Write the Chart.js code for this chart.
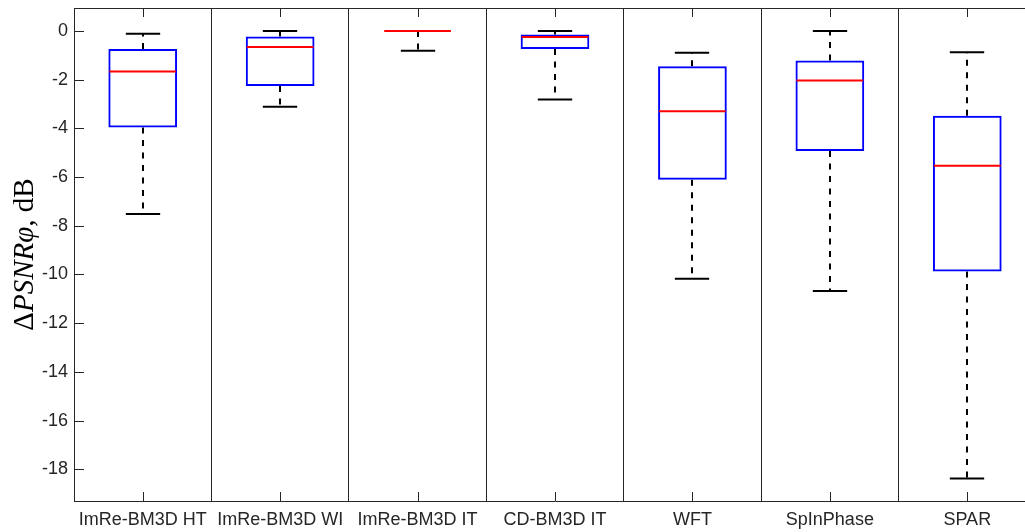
<!DOCTYPE html>
<html>
<head>
<meta charset="utf-8">
<script src="https://cdn.jsdelivr.net/npm/chart.js@4.4.0/dist/chart.umd.min.js"></script>
<style>
    html, body { margin: 0; padding: 0; overflow: hidden; background: #fff; }
    #wrap { width: 1040px; height: 532px; }
</style>
</head>
<body>
<div id="wrap"><canvas id="boxChart" width="1040" height="532"></canvas></div>
<script>
// Box plot values (dB)
const categories = ['ImRe-BM3D HT', 'ImRe-BM3D WI', 'ImRe-BM3D IT', 'CD-BM3D IT', 'WFT', 'SpInPhase', 'SPAR'];
const upperWhisker = [-0.12, 0.0, 0.0, 0.0, -0.90, 0.0, -0.88];
const q3Values = [-0.74, -0.23, 0.0, -0.15, -1.45, -1.22, -3.48];
const medianValues = [-1.67, -0.66, 0.0, -0.25, -3.30, -2.04, -5.54];
const q1Values = [-3.97, -2.26, 0.0, -0.74, -6.11, -4.93, -9.88];
const lowerWhisker = [-7.52, -3.11, -0.82, -2.82, -10.18, -10.68, -18.38];
const yTickValues = [0, -2, -4, -6, -8, -10, -12, -14, -16, -18];

const axisColor = '#262626';

function strokeLine(ctx, x1, y1, x2, y2) {
    ctx.beginPath();
    ctx.moveTo(x1, y1);
    ctx.lineTo(x2, y2);
    ctx.stroke();
}

// whiskers, caps, medians, inward ticks and the axis label
const boxExtras = {
    id: 'boxExtras',
    beforeDatasetsDraw(chart) {
        const { ctx, scales: { x, y } } = chart;
        const meta = chart.getDatasetMeta(0);
        ctx.save();
        ctx.strokeStyle = '#000';
        ctx.lineWidth = 2;
        categories.forEach((c, i) => {
            const cx = Math.round(x.getPixelForValue(i));
            const capHalf = meta.data[i].width / 4;
            ctx.setLineDash([6, 6.5]);
            strokeLine(ctx, cx, y.getPixelForValue(q3Values[i]), cx, y.getPixelForValue(upperWhisker[i]));
            strokeLine(ctx, cx, y.getPixelForValue(q1Values[i]), cx, y.getPixelForValue(lowerWhisker[i]));
            ctx.setLineDash([]);
            const yu = y.getPixelForValue(upperWhisker[i]);
            const yl = y.getPixelForValue(lowerWhisker[i]);
            strokeLine(ctx, cx - capHalf, yu, cx + capHalf, yu);
            strokeLine(ctx, cx - capHalf, yl, cx + capHalf, yl);
        });
        ctx.restore();
    },
    afterDatasetsDraw(chart) {
        const { ctx, scales: { y } } = chart;
        const meta = chart.getDatasetMeta(0);
        ctx.save();
        ctx.strokeStyle = '#ff0000';
        ctx.lineWidth = 2;
        categories.forEach((c, i) => {
            const bar = meta.data[i];
            const ym = y.getPixelForValue(medianValues[i]);
            strokeLine(ctx, bar.x - bar.width / 2 + 1, ym, bar.x + bar.width / 2 - 1, ym);
        });
        ctx.restore();
    },
    afterDraw(chart) {
        const { ctx, chartArea, scales: { x, y } } = chart;
        ctx.save();
        ctx.strokeStyle = axisColor;
        ctx.lineWidth = 1;
        // top border
        const top = Math.round(chartArea.top) + 0.5;
        strokeLine(ctx, chartArea.left, top, chartArea.right, top);
        // inward ticks
        categories.forEach((c, i) => {
            const px = Math.round(x.getPixelForValue(i)) + 0.5;
            strokeLine(ctx, px, chartArea.bottom, px, chartArea.bottom - 9);
            strokeLine(ctx, px, chartArea.top, px, chartArea.top + 9);
        });
        yTickValues.forEach(v => {
            const py = Math.round(y.getPixelForValue(v)) + 0.5;
            strokeLine(ctx, chartArea.left, py, chartArea.left + 10, py);
        });

        // y axis label: \Delta PSNR\varphi, dB
        const parts = [
            ['\u0394', 'normal'],
            ['PSNR\u03c6', 'italic'],
            [', dB', 'normal']
        ];
        const size = 29;
        ctx.translate(33, (chartArea.top + chartArea.bottom) / 2);
        ctx.rotate(-Math.PI / 2);
        ctx.fillStyle = '#000';
        ctx.textBaseline = 'alphabetic';
        ctx.textAlign = 'left';
        let total = 0;
        parts.forEach(p => {
            ctx.font = p[1] + ' ' + size + 'px "Liberation Serif", serif';
            total += ctx.measureText(p[0]).width;
        });
        let pos = -total / 2;
        parts.forEach(p => {
            ctx.font = p[1] + ' ' + size + 'px "Liberation Serif", serif';
            ctx.fillText(p[0], pos, 0);
            pos += ctx.measureText(p[0]).width;
        });
        ctx.restore();
    }
};

const tickFont = { family: '"Liberation Sans", Arial, sans-serif', size: 18 };

new Chart(document.getElementById('boxChart'), {
    type: 'bar',
    data: {
        labels: categories,
        datasets: [{
            label: 'box',
            data: categories.map((c, i) => [q1Values[i], q3Values[i]]),
            backgroundColor: 'rgba(0,0,0,0)',
            borderColor: '#0000ff',
            borderWidth: 2,
            borderSkipped: false,
            barPercentage: 0.5,
            categoryPercentage: 1.0
        }]
    },
    options: {
        responsive: false,
        animation: false,
        layout: { padding: { top: 8, right: 4, left: 0, bottom: 0 } },
        plugins: {
            legend: { display: false },
            tooltip: { enabled: false }
        },
        scales: {
            x: {
                grid: { offset: true, color: axisColor, lineWidth: 1, drawTicks: false },
                border: { display: true, color: axisColor },
                ticks: { color: axisColor, font: tickFont, padding: 8, maxRotation: 0, autoSkip: false },
                afterFit(scale) {
                    scale.height = 31;
                    scale.paddingLeft = 0;
                    scale.paddingRight = 0;
                }
            },
            y: {
                min: -19.3,
                max: 0.94,
                grid: { display: false, drawTicks: false },
                border: { display: true, color: axisColor },
                afterBuildTicks(scale) {
                    scale.ticks = yTickValues.map(v => ({ value: v }));
                },
                ticks: { color: axisColor, font: tickFont, padding: 6 },
                afterFit(scale) {
                    scale.width = 74;
                    scale.paddingTop = 0;
                    scale.paddingBottom = 0;
                }
            }
        }
    },
    plugins: [boxExtras]
});
</script>
</body>
</html>
